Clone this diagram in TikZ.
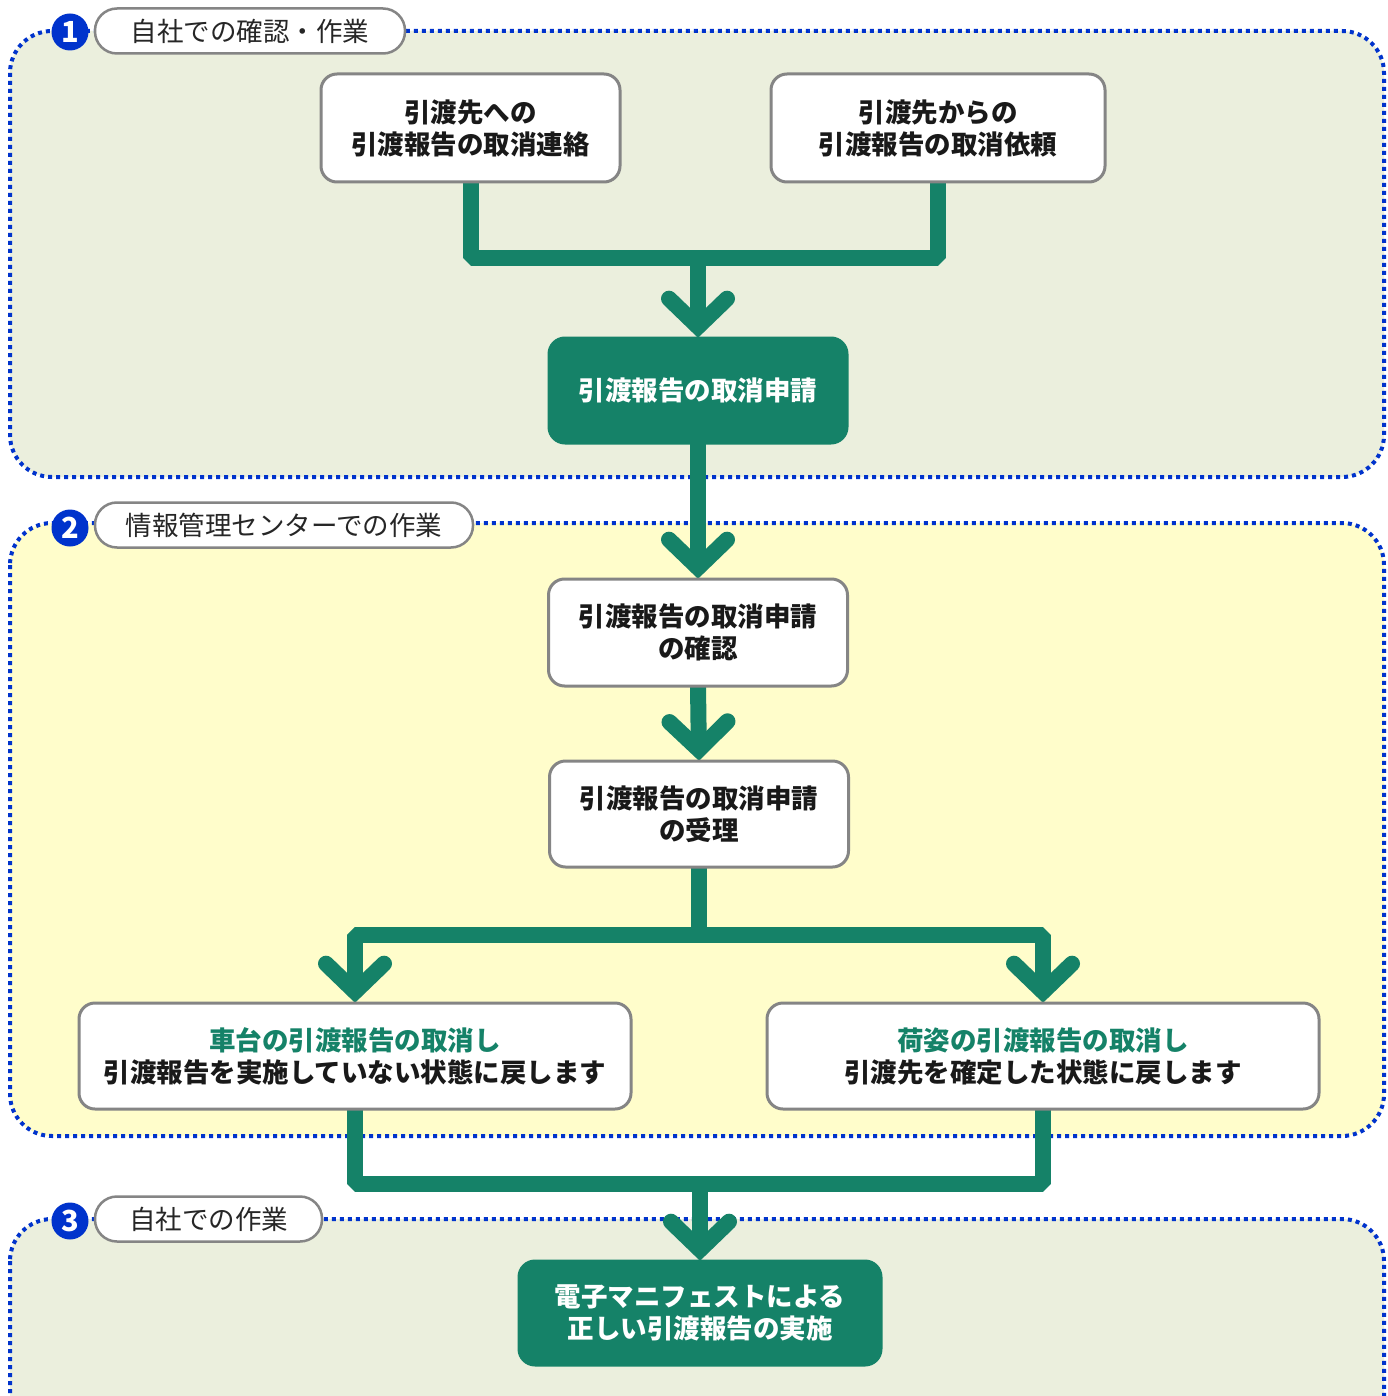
\documentclass[tikz,border=0pt]{standalone}
\usepackage{fontspec}
\setmainfont{Noto Sans CJK JP}
\usetikzlibrary{arrows.meta}
\definecolor{grn}{HTML}{158268}
\definecolor{dotblue}{HTML}{0033CC}
\definecolor{bgA}{HTML}{EBEFDD}
\definecolor{bgB}{HTML}{FFFDCB}
\definecolor{bord}{HTML}{858585}
\begin{document}
\begin{tikzpicture}[x=1pt,y=-1pt,
 >={Straight Barb[length=28pt, width=58pt, line cap=round, line join=miter]},
 region/.style={draw=dotblue, line width=4pt, dash pattern=on 4pt off 4pt, rounded corners=42pt},
 box/.style={draw=bord, line width=3pt, fill=white, rounded corners=16pt, align=center, inner sep=0pt, font=\fontsize{26.5}{32}\selectfont\bfseries, text=black!90},
 gbox/.style={box, fill=grn, draw=grn, text=white},
 badge/.style={circle, fill=dotblue, minimum size=37pt, inner sep=0pt, text=white, font=\fontsize{29}{29}\selectfont\bfseries},
 pill/.style={draw=bord, line width=2.5pt, fill=white, rounded corners=22pt, minimum height=45pt, inner sep=0pt, font=\fontsize{26.5}{30}\selectfont, text=black!85},
 flow/.style={draw=grn, line width=16pt, line join=bevel},
 ]
\fill[white] (0,0) rectangle (1387,1396);
\useasboundingbox (0,0) rectangle (1387,1396);
% regions
\draw[region, fill=bgA] (10,31) rectangle (1384,477);
\draw[region, fill=bgB] (10,523) rectangle (1384,1136);
\draw[region, fill=bgA] (10,1219) rectangle (1384,1440);
% badges and labels
\node[badge] (b1) at (70,32) {1};
\node[pill, minimum width=310pt] (p1) at (250,31) {自社での確認・作業};
\node[badge] (b2) at (70,528) {2};
\node[pill, minimum width=378pt] (p2) at (284,525) {情報管理センターでの作業};
\node[badge] (b3) at (70,1221) {3};
\node[pill, minimum width=227pt] (p3) at (208.5,1219) {自社での作業};
% anchor frames for the boxes
\path (470.5,126) node[minimum width=299pt, minimum height=108pt, inner sep=0pt] (A) {};
\path (938,126) node[minimum width=334pt, minimum height=108pt, inner sep=0pt] (B) {};
\path (698,390.5) node[minimum width=298pt, minimum height=105pt, inner sep=0pt] (C) {};
\path (698,632.5) node[minimum width=299pt, minimum height=107pt, inner sep=0pt] (D) {};
\path (699,814) node[minimum width=299pt, minimum height=106pt, inner sep=0pt] (E) {};
\path (355,1056) node[minimum width=552pt, minimum height=106pt, inner sep=0pt] (F) {};
\path (1043,1056) node[minimum width=552pt, minimum height=106pt, inner sep=0pt] (G) {};
\path (700,1313) node[minimum width=362pt, minimum height=104pt, inner sep=0pt] (H) {};
\coordinate (j1) at (698,258);
\coordinate (j2) at (699,935);
\coordinate (j3) at (700,1184);
% connectors (under the boxes)
\draw[flow] (A.south) -- (A.south |- j1) -- (B.south |- j1) -- (B.south);
\draw[flow, ->] (j1) -- (C.north);
\draw[flow, ->] (C.south) -- (D.north);
\draw[flow, ->] (D.south) -- (E.north);
\draw[flow] (E.south) -- (j2);
\draw[flow, <->] (F.north) -- (F.north |- j2) -- (G.north |- j2) -- (G.north);
\draw[flow] (F.south) -- (F.south |- j3) -- (G.south |- j3) -- (G.south);
\draw[flow, ->] (j3) -- (H.north);
% boxes
\node[box, minimum width=299pt, minimum height=108pt, yshift=-2pt] (Abox) at (A) {引渡先への\\引渡報告の取消連絡};
\node[box, minimum width=334pt, minimum height=108pt, yshift=-2pt] (Bbox) at (B) {引渡先からの\\引渡報告の取消依頼};
\node[gbox, minimum width=298pt, minimum height=105pt] (Cbox) at (C) {引渡報告の取消申請};
\node[box, minimum width=299pt, minimum height=107pt] (Dbox) at (D) {引渡報告の取消申請\\の確認};
\node[box, minimum width=299pt, minimum height=106pt] (Ebox) at (E) {引渡報告の取消申請\\の受理};
\node[box, minimum width=552pt, minimum height=106pt] (Fbox) at (F) {{\color{grn}車台の引渡報告の取消し}\\引渡報告を実施していない状態に戻します};
\node[box, minimum width=552pt, minimum height=106pt] (Gbox) at (G) {{\color{grn}荷姿の引渡報告の取消し}\\引渡先を確定した状態に戻します};
\node[gbox, minimum width=362pt, minimum height=104pt] (Hbox) at (H) {電子マニフェストによる\\正しい引渡報告の実施};
\end{tikzpicture}
\end{document}
